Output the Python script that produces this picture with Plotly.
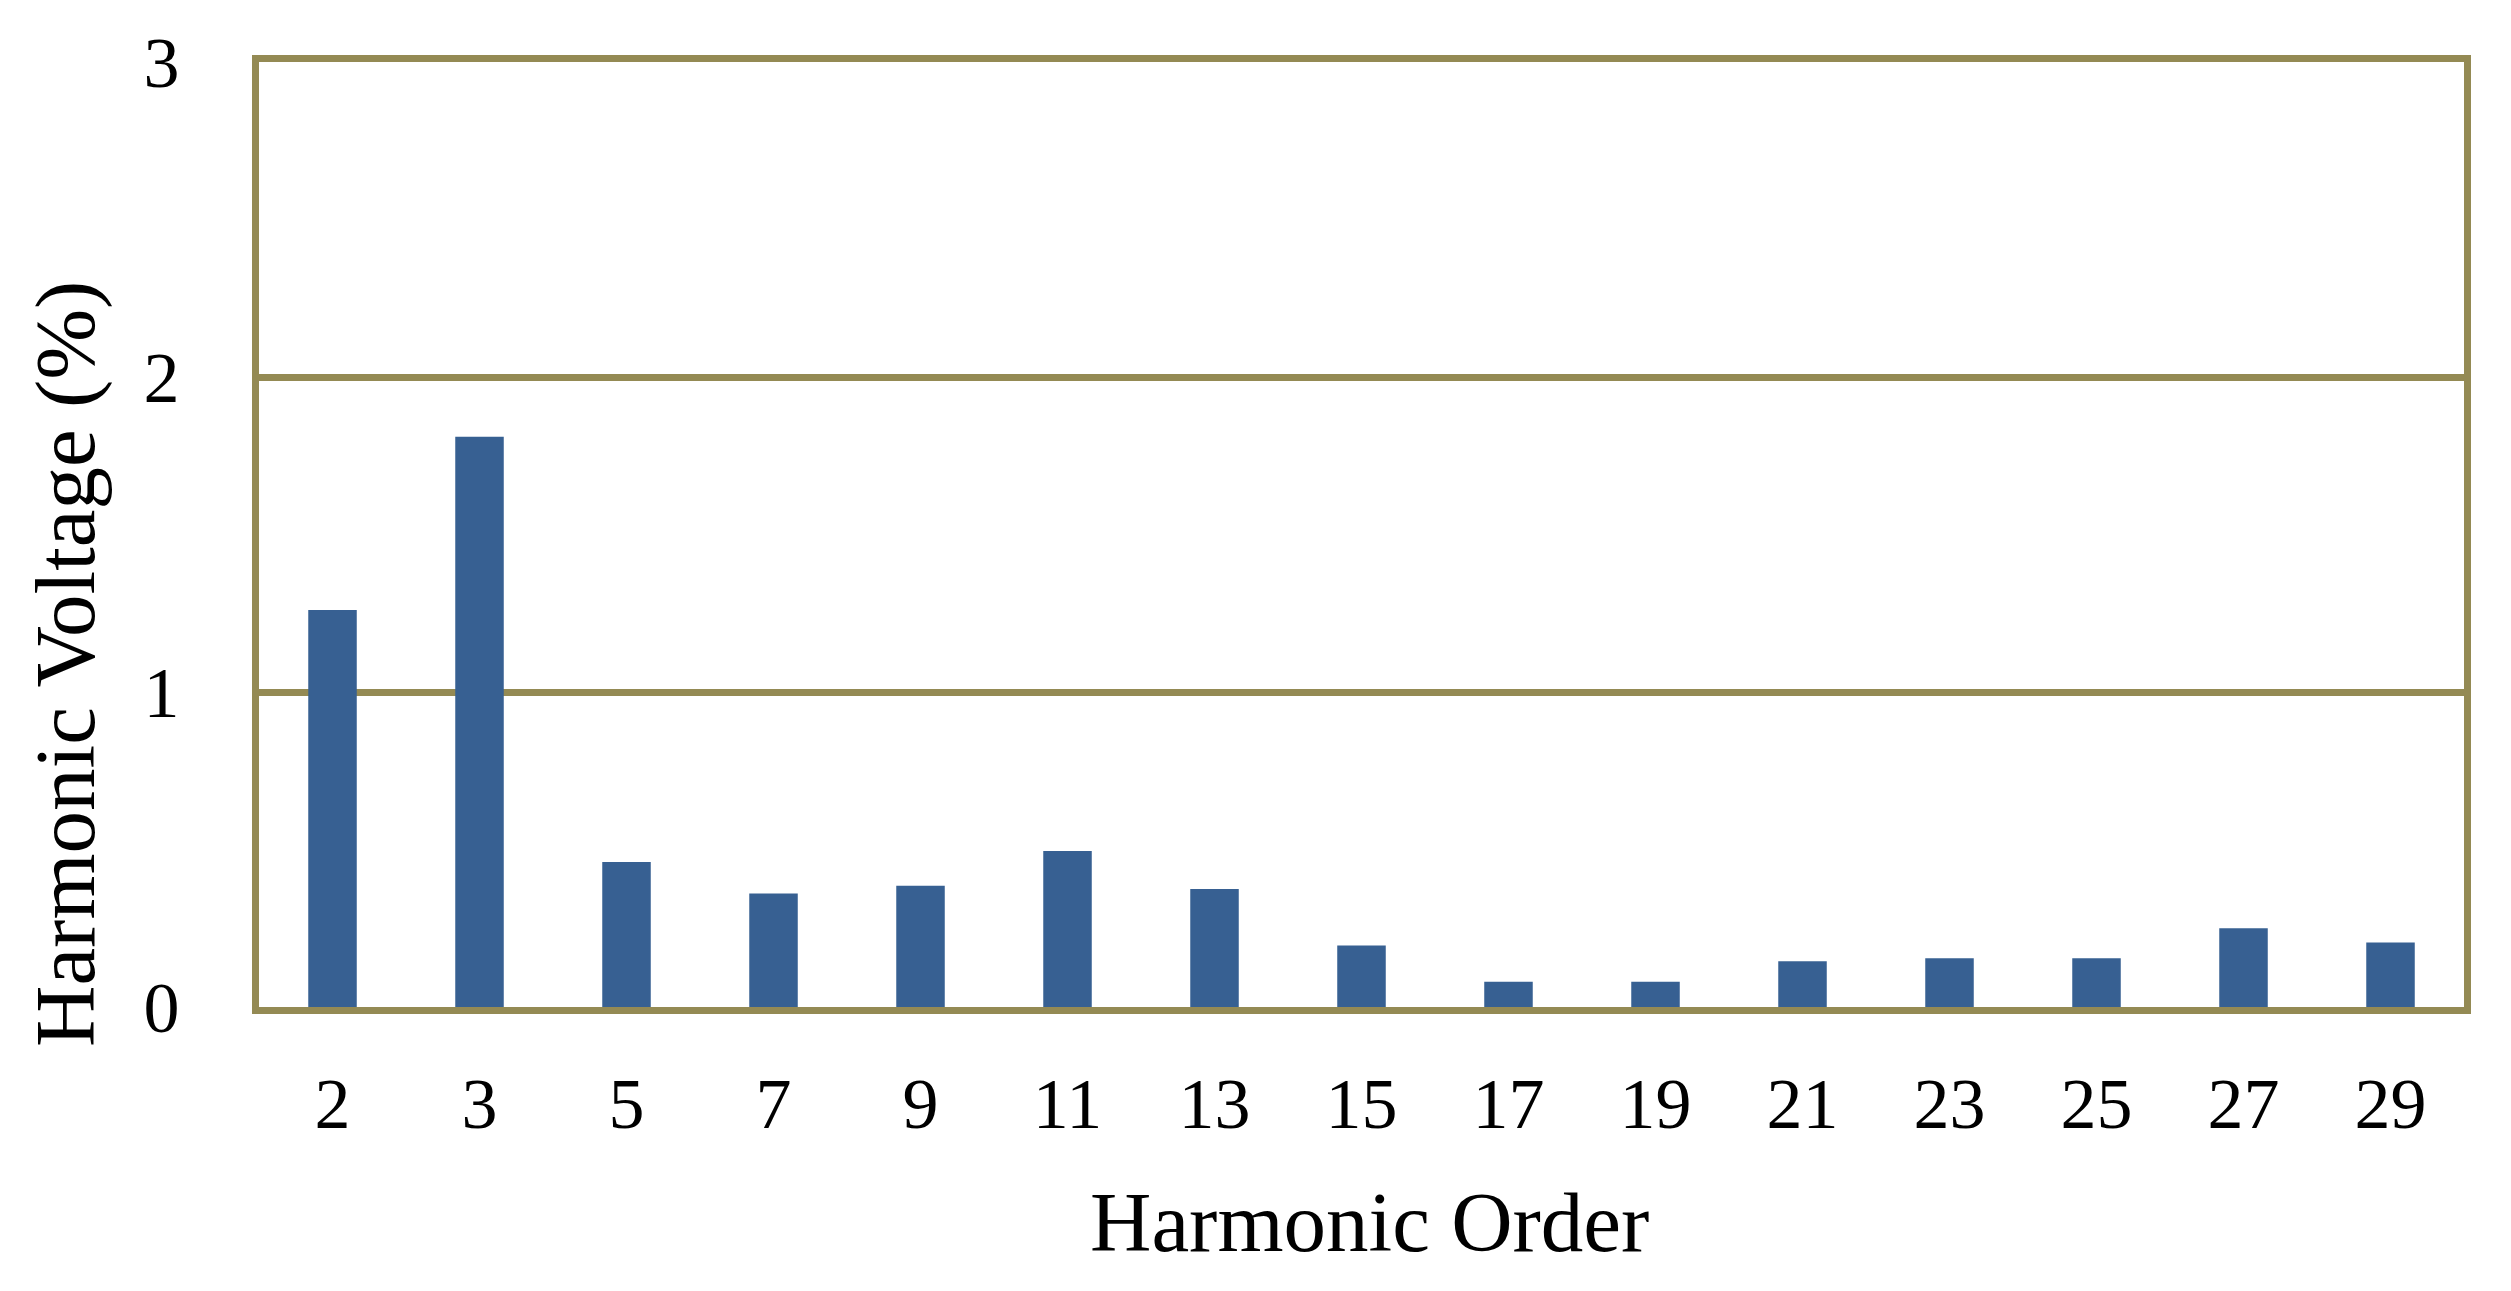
import plotly.graph_objects as go

orders = ["2", "3", "5", "7", "9", "11", "13", "15", "17", "19", "21", "23", "25", "27", "29"]
voltage = [1.26, 1.81, 0.46, 0.36, 0.385, 0.495, 0.375, 0.195, 0.08, 0.08, 0.145, 0.155, 0.155, 0.25, 0.205]
y_ticks = [0, 1, 2, 3]

olive = "#948A54"
font_family = "Liberation Serif, Times New Roman, serif"

W, H = 2511, 1291
ML, MR, MT, MB = 251, 55, 54, 292
PW, PH = W - ML - MR, H - MT - MB

fig = go.Figure(go.Bar(x=orders, y=voltage, marker=dict(color="#376092", line=dict(width=0))))

fig.update_layout(
    width=W, height=H,
    margin=dict(l=ML, r=MR, t=MT, b=MB),
    plot_bgcolor="white", paper_bgcolor="white",
    bargap=0.67, showlegend=False,
    font=dict(family=font_family, color="black", size=72),
)
fig.update_xaxes(
    type="category", showline=True, mirror=True, linecolor=olive, linewidth=7,
    showgrid=False, ticks="", ticklabelstandoff=28,
    tickfont=dict(size=72, family=font_family),
)
fig.update_yaxes(
    range=[0, 3], tickvals=y_ticks, ticktext=[str(v) for v in y_ticks],
    showline=True, mirror=True, linecolor=olive, linewidth=7,
    showgrid=True, gridcolor=olive, gridwidth=7, zeroline=False,
    ticks="", ticklabelstandoff=58,
    tickfont=dict(size=72, family=font_family),
)
fig.add_annotation(
    text="Harmonic Order", xref="paper", yref="paper",
    x=(1361 - ML) / PW, y=(H - MB - 1214) / PH,
    xanchor="center", yanchor="middle", showarrow=False,
    font=dict(size=85, family=font_family, color="black"),
)
fig.add_annotation(
    text="Harmonic Voltage (%)", xref="paper", yref="paper",
    x=(57 - ML) / PW, y=(H - MB - 656) / PH,
    xanchor="center", yanchor="middle", textangle=-90, showarrow=False,
    font=dict(size=85, family=font_family, color="black"),
)

fig.write_html("out.html")
